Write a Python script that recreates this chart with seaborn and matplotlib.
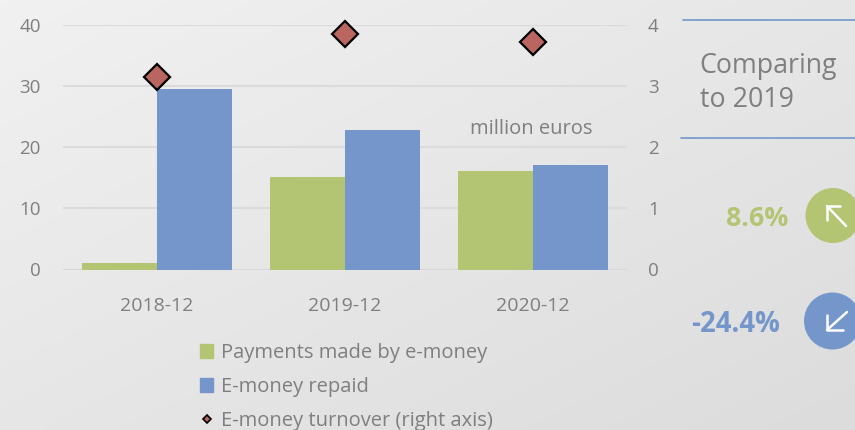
import numpy as np
import pandas as pd
import matplotlib
matplotlib.use("Agg")
import matplotlib.pyplot as plt
from matplotlib.colors import LinearSegmentedColormap
from matplotlib.lines import Line2D
from matplotlib.patches import Circle, Patch
import seaborn as sns

periods = ['2018-12', '2019-12', '2020-12']
payments = [1.1, 15.1, 16.1]
repaid = [29.4, 22.8, 17.1]
turnover = [3.14, 3.84, 3.71]

GREEN = '#b3c572'
BLUE = '#7496cb'
RED = '#b96560'
GREY = '#7f7f7f'
GRID = '#dbdbdb'


def main():
    sns.set_style("white")
    plt.rcParams['font.family'] = ['Open Sans', 'DejaVu Sans']

    fig = plt.figure(figsize=(8.55, 4.3), dpi=100)

    # background gradient
    bg = fig.add_axes([0, 0, 1, 1], zorder=0)
    xx, yy = np.meshgrid(np.linspace(0, 1, 200), np.linspace(0, 1, 100))
    bg.imshow((xx + yy) / 2, cmap=LinearSegmentedColormap.from_list('bg', ['#f1f1f1', '#dcdcdc']),
              aspect='auto', vmin=0, vmax=1)
    bg.axis('off')

    ax = fig.add_axes([63 / 855, 1 - 269.5 / 430, 564 / 855, 245 / 430], zorder=1)
    ax.patch.set_alpha(0)

    df = pd.DataFrame({'period': periods,
                       'Payments made by e-money': payments,
                       'E-money repaid': repaid})
    long_df = df.melt(id_vars='period', var_name='series', value_name='value')
    sns.barplot(data=long_df, x='period', y='value', hue='series', ax=ax,
                palette=[GREEN, BLUE], width=0.8, gap=0, saturation=1,
                legend=False, linewidth=0, edgecolor='none', zorder=3)
    ax.set_ylim(0, 40)
    ax.set_yticks([0, 10, 20, 30, 40])
    ax.set_xlabel('')
    ax.set_ylabel('')
    ax.grid(axis='y', color=GRID, lw=1.5, zorder=0)
    ax.set_axisbelow(True)
    sns.despine(ax=ax, left=True, right=True, top=True, bottom=True)
    ax.tick_params(axis='x', length=0, pad=20, labelsize=14, labelcolor=GREY)
    ax.tick_params(axis='y', length=0, pad=16, labelsize=13.5, labelcolor=GREY)
    ax.axhline(0, color='#d6d6dc', lw=2, zorder=1)

    ax2 = ax.twinx()
    ax2.patch.set_alpha(0)
    sns.pointplot(x=periods, y=turnover, ax=ax2, linestyle='none', marker='D',
                  color=RED, markersize=13, markeredgecolor='black',
                  markeredgewidth=1.6, zorder=5, clip_on=False)
    ax2.set_xlim(-0.5, 2.5)
    ax2.set_ylim(0, 4)
    ax2.set_yticks([0, 1, 2, 3, 4])
    ax2.set_ylabel('')
    ax2.grid(False)
    sns.despine(ax=ax2, left=True, right=True, top=True, bottom=True)
    ax2.tick_params(axis='y', length=0, pad=15, labelsize=13.5, labelcolor=GREY)

    # everything outside the plot, in pixel coordinates
    ov = fig.add_axes([0, 0, 1, 1], zorder=3)
    ov.set_xlim(0, 855)
    ov.set_ylim(430, 0)
    ov.axis('off')

    ov.text(531, 129, 'million euros', color=GREY, fontsize=14.5, ha='center', va='center')

    ov.plot([683, 855], [20, 20], color=BLUE, lw=1.2)
    ov.plot([681, 855], [137.5, 137.5], color=BLUE, lw=1.2)
    ov.text(699, 66, 'Comparing', color=GREY, fontsize=19.3, ha='left', va='center')
    ov.text(700, 100, 'to 2019', color=GREY, fontsize=19.3, ha='left', va='center')

    ov.text(788, 219, '8.6%', color=GREEN, fontsize=19.3, fontweight='bold', ha='right', va='center')
    ov.text(780, 324, '-24.4%', color=BLUE, fontsize=19.8, fontweight='bold', ha='right', va='center')

    ov.add_patch(Circle((833, 215.5), 27.5, color=GREEN, lw=0))
    ov.add_patch(Circle((832.5, 321), 28.5, color=BLUE, lw=0))
    ov.plot([846, 827], [226, 206], color='white', lw=1.8)
    ov.plot([827, 827, 840], [220, 206, 206], color='white', lw=1.8)
    ov.plot([847, 827], [312, 330], color='white', lw=1.8)
    ov.plot([827, 827, 843], [315, 330, 330], color='white', lw=1.8)

    handles = [Patch(color=GREEN, label='Payments made by e-money'),
               Patch(color=BLUE, label='E-money repaid'),
               Line2D([], [], ls='none', marker='D', markersize=4.5, markerfacecolor=RED,
                      markeredgecolor='black', markeredgewidth=1.2,
                      label='E-money turnover (right axis)')]
    ov.legend(handles=handles, loc='upper left', bbox_to_anchor=(200 / 855, 1 - 343 / 430),
              frameon=False, fontsize=14.5, labelcolor=GREY, handlelength=0.65,
              handleheight=0.65, handletextpad=0.38, labelspacing=0.69, borderpad=0,
              borderaxespad=0)

    fig.savefig('out.png', dpi=100)


if __name__ == "__main__":
    main()
